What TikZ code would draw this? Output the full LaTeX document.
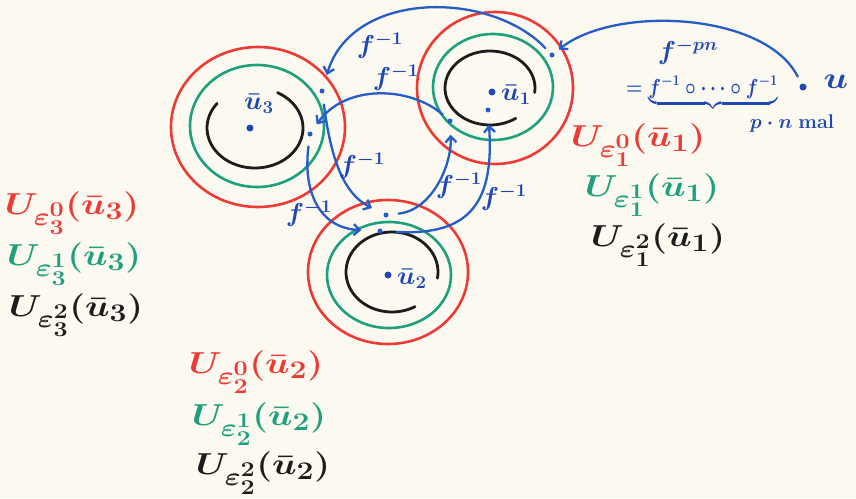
\documentclass[tikz,border=0pt]{standalone}
\usepackage{amsmath}
\usepackage{graphicx}
\usetikzlibrary{arrows.meta}
\definecolor{paper}{RGB}{251,249,240}
\definecolor{penred}{RGB}{238,58,52}
\definecolor{pengreen}{RGB}{30,160,125}
\definecolor{penblack}{RGB}{28,28,28}
\definecolor{penblue}{RGB}{38,92,200}
\definecolor{inkblue}{RGB}{32,72,180}
\newcommand{\bigtxt}[1]{\scalebox{1.45}[1.22]{\fontsize{24.88}{28}\selectfont\boldmath #1}}
\newcommand{\midtxt}[1]{\scalebox{1.3}[1.25]{\fontsize{20.74}{24}\selectfont\boldmath #1}}
\begin{document}
\begin{tikzpicture}[x=1pt,y=-1pt,
  redring/.style={draw=penred,line width=2.6pt},
  greenring/.style={draw=pengreen,line width=2.6pt},
  blackring/.style={draw=penblack,line width=2.8pt,line cap=round},
  arr/.style={draw=penblue,line width=2.3pt,line cap=round,-{Straight Barb[length=6pt,width=11pt]}},
  dot/.style={circle,fill=penblue,inner sep=0pt,minimum size=5pt},
  bigdot/.style={circle,fill=inkblue,inner sep=0pt,minimum size=7pt},
  lab/.style={inner sep=0pt},
  flab/.style={inner sep=0pt,text=inkblue}]
\fill[paper] (0,0) rectangle (856,498);
\useasboundingbox (0,0) rectangle (856,498);

% circle 3 (left)
\coordinate (c3r) at (258,127);
\coordinate (c3g) at (257,126);
\coordinate (c3k) at (255,128);
\draw[redring] (c3r) ellipse [x radius=87pt,y radius=80pt];
\draw[greenring] (c3g) ellipse [x radius=67pt,y radius=61pt];
\draw[blackring] (c3k) ++(62:48pt and 40pt) arc[start angle=62,end angle=-218,x radius=48pt,y radius=40pt];
\node[bigdot] (u3) at (250,128) {};
\node[flab] (u3l) at (259,104) {\midtxt{$\bar{u}_3$}};

% circle 1 (upper right)
\coordinate (c1r) at (495,88);
\coordinate (c1g) at (493,87);
\coordinate (c1k) at (490,88);
\draw[redring] (c1r) ellipse [x radius=78pt,y radius=76pt];
\draw[greenring] (c1g) ellipse [x radius=60pt,y radius=53pt];
\draw[blackring] (c1k) ++(-7:45pt and 37pt) arc[start angle=-7,end angle=305,x radius=45pt,y radius=37pt];
\node[bigdot] (u1) at (492,92) {};
\node[flab] (u1l) at (516,95) {\midtxt{$\bar{u}_1$}};

% circle 2 (bottom)
\coordinate (c2r) at (388,272);
\coordinate (c2g) at (389,275);
\coordinate (c2k) at (392,272);
\draw[redring] (c2r) ellipse [x radius=80pt,y radius=72pt];
\draw[greenring] (c2g) ellipse [x radius=62pt,y radius=53pt];
\draw[blackring] (c2k) ++(-9:46pt and 40pt) arc[start angle=-9,end angle=300,x radius=46pt,y radius=40pt];
\node[bigdot] (u2) at (388,275) {};
\node[flab] (u2l) at (412,279) {\midtxt{$\bar{u}_2$}};

% small points
\node[dot] (d1a) at (552,55) {};
\node[dot] (d1b) at (450,121) {};
\node[dot] (d1c) at (488,110) {};
\node[dot] (d3a) at (322,91) {};
\node[dot] (d3b) at (310,134) {};
\node[dot] (d2a) at (386,215) {};
\node[dot] (d2b) at (380,231) {};
\node[bigdot] (ud) at (803,87) {};
\node[flab] (ul) at (836,82) {\bigtxt{$u$}};

% arrows
\draw[arr,shorten <=8pt,shorten >=6pt] (ud) .. controls (765,12) and (615,5) .. (d1a);
\draw[arr,shorten <=7pt,shorten >=14pt] (d1a) .. controls (490,-10) and (352,-10) .. (d3a);
\draw[arr,shorten <=7pt,shorten >=9pt] (d1b) .. controls (410,86) and (345,84) .. (d3b);
\draw[arr,shorten <=11pt,shorten >=13pt] (d3a) .. controls (330,150) and (340,192) .. (d2a);
\draw[arr,shorten <=10pt,shorten >=16pt] (d3b) .. controls (303,190) and (318,228) .. (d2b);
\draw[arr,shorten <=10pt,shorten >=11pt] (d2a) .. controls (432,210) and (452,165) .. (d1b);
\draw[arr,shorten <=14pt,shorten >=12pt] (d2b) .. controls (472,236) and (494,200) .. (d1c);

% f^{-1} labels
\node[flab] (fa) at (380,46) {\midtxt{$f^{-1}$}};
\node[flab] (fb) at (396,78) {\midtxt{$f^{-1}$}};
\node[flab] (fc) at (362,166) {\midtxt{$f^{-1}$}};
\node[flab] (fd) at (309,214) {\midtxt{$f^{-1}$}};
\node[flab] (fe) at (459,186) {\midtxt{$f^{-1}$}};
\node[flab] (ff) at (504,198) {\midtxt{$f^{-1}$}};

% composition text
\node[flab] (fpn) at (688,52) {\midtxt{$f^{-pn}$}};
\node[flab,anchor=north] (comp) at (702,76) {\scalebox{0.9}[1.05]{\fontsize{20.74}{24}\selectfont\boldmath$=\underbrace{f^{-1}\circ\cdots\circ f^{-1}}$}};
\node[flab] (mal) at (792,124) {\scalebox{1.15}{\fontsize{17.28}{19}\selectfont\boldmath$p\cdot n$ \bfseries mal}};

% neighbourhood labels
\node[lab,text=penred] (l3a) at (72,213) {\bigtxt{$U_{\varepsilon_3^0}(\bar{u}_3)$}};
\node[lab,text=pengreen] (l3b) at (74,264) {\bigtxt{$U_{\varepsilon_3^1}(\bar{u}_3)$}};
\node[lab,text=penblack] (l3c) at (76,315) {\bigtxt{$U_{\varepsilon_3^2}(\bar{u}_3)$}};
\node[lab,text=penred] (l2a) at (256,372) {\bigtxt{$U_{\varepsilon_2^0}(\bar{u}_2)$}};
\node[lab,text=pengreen] (l2b) at (259,424) {\bigtxt{$U_{\varepsilon_2^1}(\bar{u}_2)$}};
\node[lab,text=penblack] (l2c) at (263,473) {\bigtxt{$U_{\varepsilon_2^2}(\bar{u}_2)$}};
\node[lab,text=penred] (l1a) at (638,145) {\bigtxt{$U_{\varepsilon_1^0}(\bar{u}_1)$}};
\node[lab,text=pengreen] (l1b) at (652,195) {\bigtxt{$U_{\varepsilon_1^1}(\bar{u}_1)$}};
\node[lab,text=penblack] (l1c) at (658,245) {\bigtxt{$U_{\varepsilon_1^2}(\bar{u}_1)$}};
\end{tikzpicture}
\end{document}
